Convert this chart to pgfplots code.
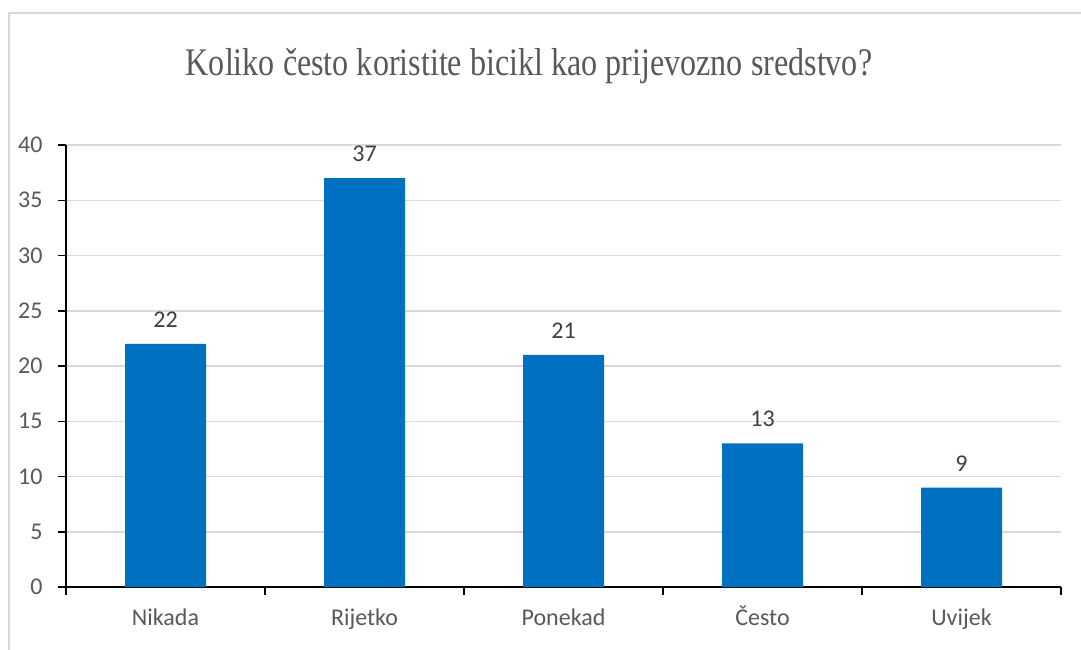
\documentclass[border=0pt]{standalone}
\usepackage{pgfplots}
\pgfplotsset{compat=1.18}
\usepackage{fontspec}
\setmainfont{Carlito}
\newfontfamily\titlefont[FakeStretch=0.823]{Liberation Serif}
\definecolor{barblue}{HTML}{0070C0}
\definecolor{txt}{HTML}{595959}
\definecolor{lbl}{HTML}{404040}
\definecolor{gridc}{HTML}{D9D9D9}
\begin{document}
\begin{tikzpicture}
\useasboundingbox (0pt,0pt) rectangle (1081pt,649pt);
\fill[white] (0pt,0pt) rectangle (1081pt,649pt);
\draw[gridc, line width=1.5pt] (9pt,-10pt) rectangle (1095pt,636pt);
\node[font=\titlefont\fontsize{39}{42}\selectfont, text=txt, anchor=base] at (529pt,573pt) {Koliko često koristite bicikl kao prijevozno sredstvo?};
\begin{axis}[
  at={(66pt,62pt)}, anchor=south west,
  scale only axis, width=995pt, height=442pt,
  xmin=-0.5, xmax=4.5, ymin=0, ymax=40,
  ytick={0,5,...,40},
  xtick={0,1,2,3,4},
  xticklabels={Nikada,Rijetko,Ponekad,Često,Uvijek},
  minor xtick={-0.5,0.5,1.5,2.5,3.5,4.5},
  axis x line*=bottom, axis y line*=left,
  axis line style={black, line width=1.5pt, -},
  major x tick style={draw=none},
  minor tick length=8pt, major tick length=8pt,
  tick style={black, line width=1.5pt},
  tick align=outside,
  ymajorgrids, grid style={gridc, line width=1.5pt},
  ticklabel style={font=\fontsize{24}{26}\selectfont, text=txt},
  yticklabel style={xshift=-12pt},
  xticklabel style={yshift=-7pt, text height=20pt, text depth=6pt},
  /pgf/number format/assume math mode=true,
  ybar, bar width=81pt,
  nodes near coords,
  nodes near coords style={font=\fontsize{24}{26}\selectfont, text=lbl, anchor=south, inner sep=0pt, yshift=16pt},
  clip=false,
]
\addplot[fill=barblue, draw=none] coordinates {(0,22) (1,37) (2,21) (3,13) (4,9)};
\end{axis}
\end{tikzpicture}
\end{document}
